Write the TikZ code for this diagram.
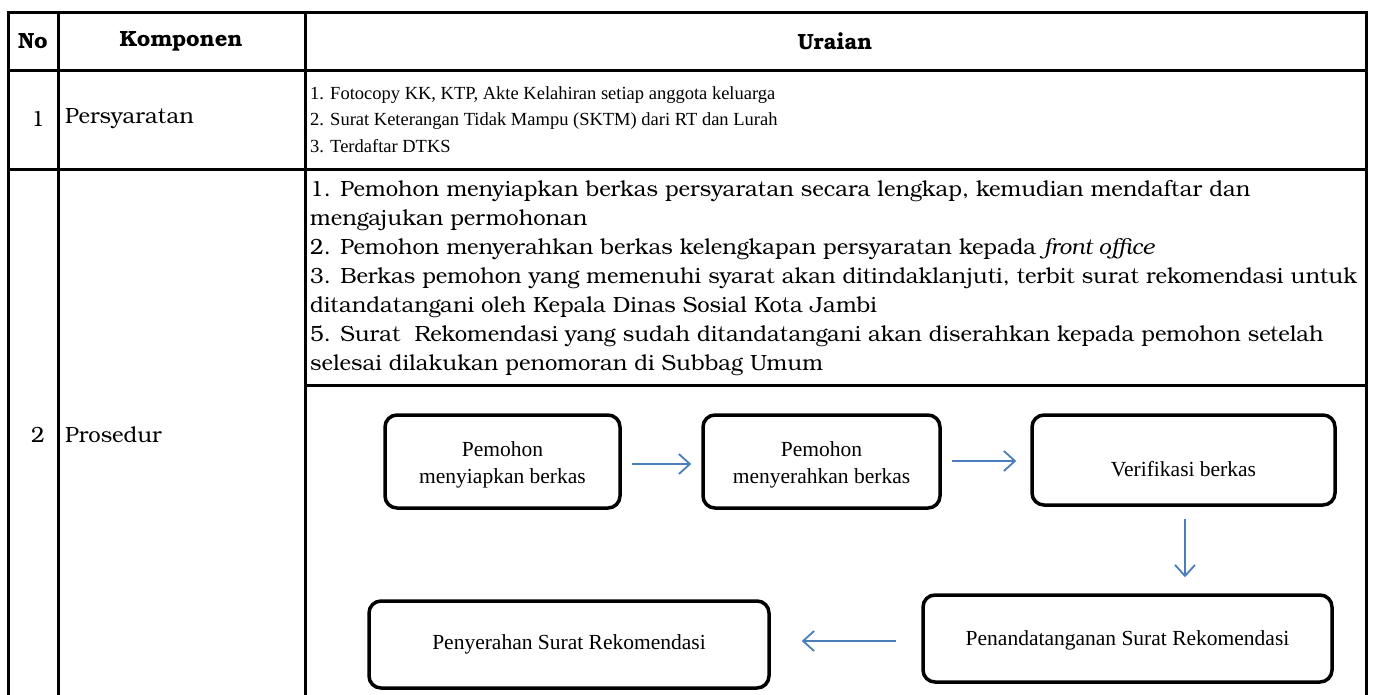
\documentclass[tikz,border=0pt]{standalone}
\usepackage{fontspec}
\setmainfont{Liberation Serif}
\newfontfamily\bkf{texgyrebonum-regular.otf}[BoldFont=texgyrebonum-bold.otf, ItalicFont=texgyrebonum-italic.otf]
\usetikzlibrary{arrows.meta}
\definecolor{arrowblue}{RGB}{74,126,187}
\newcommand\lowerby[2]{\raisebox{-#1}[\height][\depth]{#2}}
\tikzset{
  grid/.style={line width=3pt, line cap=rect},
  thincell/.style={line width=3pt},
  bktext/.style={font=\bkf\fontsize{22}{29}\selectfont, inner sep=0pt},
  tmtext/.style={font=\fontsize{18.5}{26}\selectfont, inner sep=0pt},
  hdr/.style={font=\bkf\bfseries\fontsize{22}{26}\selectfont, inner sep=0pt},
  flowbox/.style={draw, line width=3.5pt, rounded corners=12pt, align=center,
    font=\fontsize{21.5}{27}\selectfont, inner sep=0pt},
  flowarrow/.style={draw=arrowblue, line width=1.8pt,
    -{Straight Barb[length=11pt,width=20pt,line width=1.8pt]}}
}
\begin{document}
\begin{tikzpicture}[x=1pt,y=-1pt]
\useasboundingbox (0,0) rectangle (1376,694);
% table rules
\draw[grid] (8,694) -- (8,12) -- (1366,12) -- (1366,694);
\draw[grid] (58,12) -- (58,694);
\draw[grid] (305,12) -- (305,694);
\draw[grid] (8,70) -- (1366,70);
\draw[grid] (8,169) -- (1366,169);
\draw[thincell] (305,385) -- (1366,385);
% header
\node[hdr] (hno) at (33,41) {No};
\node[hdr] (hkomp) at (181,41) {Komponen};
\node[hdr] (hur) at (835,41) {Uraian};
% row 1
\node[bktext] (n1) at (38,119) {1};
\node[bktext, anchor=west] (k1) at (65,119) {Persyaratan};
\foreach \t [count=\i] in {{1. Fotocopy KK, KTP, Akte Kelahiran setiap anggota keluarga},
  {2. Surat Keterangan Tidak Mampu (SKTM) dari RT dan Lurah},
  {3. Terdaftar DTKS}}
  \node[tmtext, anchor=base west] (ra\i) at (310,{99+26.5*(\i-1)}) {\t};
% row 2
\node[bktext] (n2) at (38,435) {2};
\node[bktext, anchor=west] (k2) at (65,435) {Prosedur};
\foreach \t [count=\i] in {{1. Pemohon menyiapkan berkas persyaratan secara lengkap, kemudian mendaftar dan},
  {mengajukan permohonan},
  {2. Pemohon menyerahkan berkas kelengkapan persyaratan kepada \textit{front office}},
  {3. Berkas pemohon yang memenuhi syarat akan ditindaklanjuti, terbit surat rekomendasi untuk},
  {ditandatangani oleh Kepala Dinas Sosial Kota Jambi},
  {5. Surat\ \ Rekomendasi yang sudah ditandatangani akan diserahkan kepada pemohon setelah},
  {selesai dilakukan penomoran di Subbag Umum}}
  \node[bktext, anchor=base west] (rb\i) at (310,{196+29*(\i-1)}) {\t};
% flowchart
\node[flowbox, minimum width=235pt, minimum height=93pt] (b1) at (502.5,461.5) {\lowerby{3pt}{\begin{tabular}{@{}c@{}}Pemohon\\menyiapkan berkas\end{tabular}}};
\node[flowbox, minimum width=237pt, minimum height=93pt] (b2) at (821.5,461.5) {\lowerby{3pt}{\begin{tabular}{@{}c@{}}Pemohon\\menyerahkan berkas\end{tabular}}};
\node[flowbox, minimum width=303pt, minimum height=90pt] (b3) at (1183.5,460) {\lowerby{9pt}{Verifikasi berkas}};
\node[flowbox, minimum width=409pt, minimum height=87pt] (b4) at (1127.5,638.5) {\lowerby{2pt}{Penandatanganan Surat Rekomendasi}};
\node[flowbox, minimum width=400pt, minimum height=87pt] (b5) at (569,644.5) {Penyerahan Surat Rekomendasi};
\draw[flowarrow, shorten <=10pt, shorten >=10pt] (b1.east |- 0,464) -- (b2.west |- 0,464);
\draw[flowarrow, shorten <=10pt, shorten >=14pt] (b2.east |- 0,461) -- (b3.west |- 0,461);
\draw[flowarrow, shorten <=12pt, shorten >=16pt] (b3.south -| 1185,0) -- (b4.north -| 1185,0);
\draw[flowarrow, shorten <=25pt, shorten >=31pt] (b4.west |- 0,641) -- (b5.east |- 0,641);
\end{tikzpicture}
\end{document}
